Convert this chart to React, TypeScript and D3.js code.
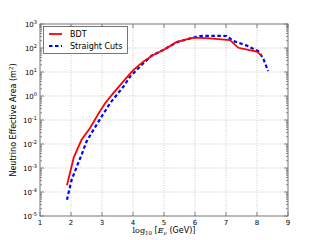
import React from 'react';
import * as d3 from 'd3';

const width = 320;
const height = 240;
const margin = { top: 24, right: 32, bottom: 24, left: 40 };

// log10 energy (GeV) and effective area (m^2)
const bdtEnergy = [1.87, 2.09, 2.34, 2.61, 2.88, 3.1, 3.37, 3.6, 3.85, 4.01, 4.33, 4.65, 4.98, 5.41, 5.52, 5.84, 6.0, 6.48, 7.13, 7.4, 7.99, 8.15];
const bdtArea = [1.9e-4, 2.8e-3, 1.5e-2, 4.5e-2, 0.18, 0.5, 1.35, 3.0, 7.1, 12, 27, 51, 83, 180, 195, 250, 270, 250, 215, 102, 71, 48];

const cutsEnergy = [1.87, 2.02, 2.18, 2.34, 2.5, 2.72, 2.99, 3.26, 3.69, 3.9, 4.33, 4.6, 4.98, 5.41, 5.84, 6.16, 6.59, 7.02, 7.24, 7.67, 8.04, 8.2, 8.36];
const cutsArea = [4.7e-5, 3.2e-4, 1.1e-3, 3.5e-3, 1.26e-2, 3.8e-2, 0.14, 0.5, 2.45, 6.3, 23, 48, 83, 175, 250, 316, 324, 316, 195, 126, 74, 37, 11];

const xTicks = [1, 2, 3, 4, 5, 6, 7, 8, 9];
const yExponents = [-5, -4, -3, -2, -1, 0, 1, 2, 3];

const font = 'DejaVu Sans, sans-serif';

export default function App() {
  const x = d3.scaleLinear().domain([1, 9]).range([margin.left, width - margin.right]);
  const y = d3.scaleLog().domain([1e-5, 1e3]).range([height - margin.bottom, margin.top]);

  const line = d3.line<[number, number]>()
    .x(d => x(d[0]))
    .y(d => y(d[1]));

  const bdt = bdtEnergy.map((e, i) => [e, bdtArea[i]] as [number, number]);
  const cuts = cutsEnergy.map((e, i) => [e, cutsArea[i]] as [number, number]);

  const x0 = x(1), x1 = x(9), y0 = y(1e-5), y1 = y(1e3);

  const minor: number[] = [];
  yExponents.slice(0, -1).forEach(p => {
    for (let m = 2; m <= 9; m++) minor.push(m * Math.pow(10, p));
  });

  return (
    <svg width={width} height={height} style={{ position: 'absolute', left: 0, top: 0, background: '#fff' }}>
      {/* grid */}
      <g stroke="#bbb" strokeWidth={0.8} strokeDasharray="1,1.5">
        {xTicks.slice(1, -1).map(t => <line key={'gx' + t} x1={x(t)} x2={x(t)} y1={y0} y2={y1} />)}
        {yExponents.slice(1, -1).map(p => <line key={'gy' + p} x1={x0} x2={x1} y1={y(Math.pow(10, p))} y2={y(Math.pow(10, p))} />)}
      </g>

      {/* data */}
      <path d={line(cuts) || ''} fill="none" stroke="#0000ff" strokeWidth={2.2} strokeDasharray="3.5,2.5" />
      <path d={line(bdt) || ''} fill="none" stroke="#ff0000" strokeWidth={1.8} />

      {/* ticks */}
      <g stroke="#666" strokeWidth={0.8}>
        {xTicks.map(t => (
          <g key={'tx' + t}>
            <line x1={x(t)} x2={x(t)} y1={y0} y2={y0 - 4} />
            <line x1={x(t)} x2={x(t)} y1={y1} y2={y1 + 4} />
          </g>
        ))}
        {yExponents.map(p => (
          <g key={'ty' + p}>
            <line x1={x0} x2={x0 + 4} y1={y(Math.pow(10, p))} y2={y(Math.pow(10, p))} />
            <line x1={x1} x2={x1 - 4} y1={y(Math.pow(10, p))} y2={y(Math.pow(10, p))} />
          </g>
        ))}
        {minor.map((v, i) => (
          <g key={'my' + i}>
            <line x1={x0} x2={x0 + 2} y1={y(v)} y2={y(v)} />
            <line x1={x1} x2={x1 - 2} y1={y(v)} y2={y(v)} />
          </g>
        ))}
      </g>

      {/* frame */}
      <rect x={x0} y={y1} width={x1 - x0} height={y0 - y1} fill="none" stroke="#777" strokeWidth={1} />

      {/* tick labels */}
      <g fontFamily={font} fontSize={7} fill="#000">
        {xTicks.map(t => (
          <text key={'lx' + t} x={x(t)} y={y0 + 9} textAnchor="middle">{t}</text>
        ))}
        {yExponents.map(p => (
          <text key={'ly' + p} x={x0 - 3} y={y(Math.pow(10, p)) + 2.5} textAnchor="end">
            10<tspan dy={-3} fontSize={5}>{p}</tspan>
          </text>
        ))}
      </g>

      {/* axis labels */}
      <text x={(x0 + x1) / 2} y={233} textAnchor="middle" fontFamily={font} fontSize={8}>
        <tspan fontFamily="DejaVu Serif, serif">log</tspan>
        <tspan fontFamily="DejaVu Serif, serif" fontSize={5.5} dy={2}>10</tspan>
        <tspan dy={-2}> [</tspan>
        <tspan fontFamily="DejaVu Serif, serif" fontStyle="italic">E</tspan>
        <tspan fontFamily="DejaVu Serif, serif" fontStyle="italic" fontSize={5.5} dy={2}>ν</tspan>
        <tspan dy={-2}> (GeV)]</tspan>
      </text>
      <text transform={`translate(16,${(y0 + y1) / 2}) rotate(-90)`} textAnchor="middle" fontFamily={font} fontSize={8}>
        Neutrino Effective Area (m<tspan fontSize={5.5} dy={-3}>2</tspan><tspan dy={3}>)</tspan>
      </text>

      {/* legend */}
      <g>
        <rect x={43.5} y={26.5} width={84} height={27} fill="#fff" stroke="#555" strokeWidth={0.8} />
        <line x1={49} x2={62} y1={34} y2={34} stroke="#ff0000" strokeWidth={1.8} />
        <text x={70} y={37} fontFamily={font} fontSize={8}>BDT</text>
        <line x1={49} x2={62} y1={46} y2={46} stroke="#0000ff" strokeWidth={2.2} strokeDasharray="3.5,2.5" />
        <text x={70} y={49} fontFamily={font} fontSize={8}>Straight Cuts</text>
      </g>
    </svg>
  );
}
